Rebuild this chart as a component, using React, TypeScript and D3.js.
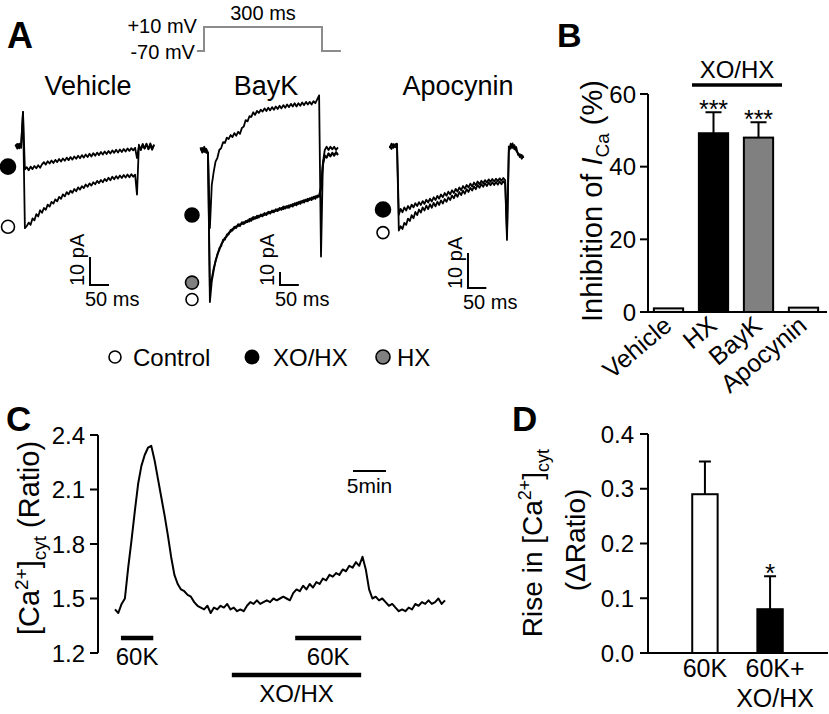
import React from "react";
import * as d3 from "d3";

const FONT = "'Liberation Sans', Arial, Helvetica, sans-serif";
const W = 829;
const H = 714;

// ---------------- Panel A : whole-cell currents (pA, relative to holding), every 5 ms from -20 ms ----------------
const traceStartMs = -20;
const traceStepMs = 5;
const pulseMs = 300;
const scaleBarPA = 10;
const scaleBarMs = 50;

const vehicleControl = [0.8, -0.6, 1.2, -0.3, 12.5,
  -29, -28.2, -27, -27.8, -25.5, -26.2, -24, -24.8, -22.6, -23.5,
  -21.8, -22.4, -20.6, -21.3, -19.6, -20.2, -18.7, -19.4, -17.8, -18.5,
  -16.9, -17.6, -16.1, -16.9, -15.6, -16.4, -15, -15.8, -14.4, -15.2,
  -14, -14.7, -13.4, -14.2, -13, -13.8, -12.6, -13.3, -12.1, -12.9,
  -11.8, -12.6, -11.4, -12.2, -11, -11.9, -10.6, -11.5, -10.4, -11.3,
  -10.2, -11.1, -10, -10.9, -9.8, -10.8, -9.7, -10.6, -9.9,
  -17, 0.8, -0.9, 1.1, -0.5, 0.9, -0.7, 1.3, -0.4, 0.6];
const vehicleXoHx = [0.4, 1.1, -0.5, 0.9, 12.5,
  -8, -7.2, -8.3, -7, -7.9, -6.8, -7.6, -6.5, -7.4, -6.2,
  -5.4, -6.3, -5.1, -5.9, -4.8, -5.7, -4.6, -5.4, -4.3, -5.2,
  -4.1, -4.9, -3.8, -4.7, -3.6, -4.5, -3.4, -4.2, -3.1, -4,
  -2.9, -3.8, -2.7, -3.6, -2.4, -3.4, -2.2, -3.1, -2, -2.9,
  -1.8, -2.7, -1.6, -2.5, -1.4, -2.3, -1.2, -2.1, -1, -2,
  -0.9, -1.8, -0.7, -1.6, -0.5, -1.4, -0.4, -1.2, -0.3,
  -4, 0.3, -1.1, 0.7, -0.6, 1.2, -0.8, 0.5, -1, 0.9];
const baykControl = [1.5, -2, 2.5, -1, -3,
  -117, -101, -93, -85, -81, -75.5, -74, -69, -69, -65,
  -65, -61.5, -62, -59, -60, -57, -58.5, -55.5, -57, -54.5,
  -55.5, -53, -54.5, -51.5, -53, -50.5, -52, -49.5, -51, -48.5,
  -50, -47.5, -49, -46.5, -48, -45.5, -47, -44.5, -46, -43.5,
  -45, -43, -44.5, -42, -43.5, -41, -42.5, -40, -41.5, -39,
  -40.5, -38, -39.5, -37, -38.5, -36, -37.5, -35, -36,
  -30, -12, -5, -5.5, -2.5, -4.5, -2, -4, -1.5, -3.5];
const baykHx = [0.5, 1.5, -1.5, 1, -2,
  -106, -99, -91, -86, -80, -77, -72.5, -70.5, -67.5, -66.5,
  -63.5, -63, -60.5, -60.5, -58.5, -58.5, -57, -57, -55.5, -56,
  -54, -55, -52.5, -53.5, -51.5, -52.5, -50.5, -51, -49.5, -50,
  -48.5, -49, -47.5, -48, -46.5, -47, -45.5, -46, -44.5, -45.5,
  -43.5, -44.5, -42.5, -43.5, -41.5, -42.5, -40.5, -41.5, -39.5, -40.5,
  -38.5, -39.5, -37.5, -38.5, -36.5, -37.5, -35.5, -36.5, -35,
  -28, -10, -4, -6, -3, -5, -2.5, -4.5, -2, -4];
const baykXoHx = [2, -1.5, 1, -2, -2,
  -60, -27, -17, -9, -6, 0, 1.5, 6, 5.5, 9.5,
  8.5, 11.5, 10, 13, 11, 14, 12.5, 17, 18, 23,
  22, 26, 25.5, 29, 27, 30, 28.5, 31, 29.5, 32,
  30, 32.5, 30.5, 33, 31, 33.5, 31.5, 34, 32, 34.5,
  32.5, 35, 33, 35.5, 33.5, 36, 33.5, 36, 34, 36.5,
  34.5, 37, 35, 37, 35, 37.5, 36, 39, 42,
  -82, -10, 0, 2.5, 0, 2.5, 0.5, 2.5, 0, 2];
const apocyninControl = [0.5, 1.8, 0.6, 1.6, 1.8,
  -23, -21.8, -22.6, -20.8, -21.4, -19.6, -20.3, -18.6, -19.5, -17.7,
  -18.6, -17, -17.9, -16.4, -17.3, -15.9, -16.9, -15.5, -16.5, -15.1,
  -16.1, -14.8, -15.7, -14.4, -15.3, -14, -14.8, -13.5, -14.3, -13,
  -13.8, -12.5, -13.4, -12, -12.9, -11.6, -12.5, -11.2, -12, -10.8,
  -11.6, -10.4, -11.2, -10, -10.8, -9.7, -10.5, -9.5, -10.3, -9.3,
  -10.1, -9.2, -10, -9.1, -9.9, -9, -9.8, -8.9, -9.6,
  -25.7, -0.5, 1.8, 0.6, 1.4, -0.2, -0.9, -2, -1.4, -2.3];
const apocyninXoHx = [1.2, 0.3, 1.7, 0.8, 1.5,
  -18.5, -16.8, -17.8, -16.4, -17.3, -16, -16.9, -15.6, -16.4, -15.2,
  -16, -14.9, -15.7, -14.6, -15.4, -14.2, -15, -13.9, -14.7, -13.5,
  -14.3, -13.1, -13.9, -12.7, -13.5, -12.3, -13.1, -11.9, -12.7, -11.5,
  -12.3, -11.1, -11.9, -10.7, -11.5, -10.3, -11.1, -10, -10.7, -9.6,
  -10.4, -9.3, -10.1, -9, -9.8, -8.8, -9.5, -8.6, -9.3, -8.4,
  -9.1, -8.3, -9, -8.2, -8.9, -8.1, -8.8, -8, -8.6,
  -24, 1, 0.4, 1.9, 0.2, 0.9, -1.4, -1.2, -2.5, -1.6];

// voltage protocol
const protocolMs = [-18, 0, 0, 300, 300, 348];
const protocolMv = [-70, -70, 10, 10, -70, -70];

// ---------------- Panel B ----------------
const inhibitionGroups = ["Vehicle", "HX", "BayK", "Apocynin"];
const inhibitionMeans = [1, 49.2, 48, 1.2];
const inhibitionSEM = [0, 5.8, 4.2, 0];
const inhibitionStars = ["", "***", "***", ""];
const inhibitionTicks = [0, 20, 40, 60];

// ---------------- Panel C ----------------
const calciumStepMin = 0.5;
const calciumRatio = [1.44, 1.42, 1.47, 1.5, 1.67, 1.82, 1.98, 2.13, 2.23, 2.29,
  2.33, 2.34, 2.26, 2.16, 2.06, 1.96, 1.85, 1.73, 1.63, 1.58,
  1.55, 1.54, 1.52, 1.51, 1.48, 1.46, 1.45, 1.44, 1.46, 1.42,
  1.45, 1.44, 1.46, 1.45, 1.47, 1.44, 1.45, 1.43, 1.44, 1.43,
  1.46, 1.48, 1.47, 1.49, 1.47, 1.48, 1.49, 1.48, 1.5, 1.49,
  1.5, 1.51, 1.5, 1.49, 1.53, 1.55, 1.54, 1.57, 1.55, 1.58,
  1.56, 1.59, 1.58, 1.61, 1.6, 1.63, 1.62, 1.64, 1.63, 1.66,
  1.65, 1.68, 1.67, 1.7, 1.68, 1.73, 1.66, 1.55, 1.5, 1.51,
  1.49, 1.5, 1.48, 1.46, 1.47, 1.45, 1.43, 1.44, 1.43, 1.45,
  1.44, 1.47, 1.46, 1.48, 1.47, 1.49, 1.47, 1.48, 1.5, 1.47, 1.49];
const calciumTicks = [1.2, 1.5, 1.8, 2.1, 2.4];
const k60Periods = [[0.9, 5.8], [27.3, 37.3]];
const xoHxPeriod = [17.7, 37.3];
const timeBarMin = 5;

// ---------------- Panel D ----------------
const riseGroups = [["60K"], ["60K+", "XO/HX"]];
const riseMeans = [0.29, 0.08];
const riseSEM = [0.06, 0.06];
const riseStars = ["", "*"];
const riseTicks = [0, 0.1, 0.2, 0.3, 0.4];

const traceTimes = vehicleControl.map((_, i) => traceStartMs + i * traceStepMs);

function TracePanel(props: any) {
  const { title, titleX, x, y, traces, markers, markerX, bar } = props;
  const line = d3.line<number>().x((_, i) => x(traceTimes[i])).y((d) => y(d));
  const vLen = y(-scaleBarPA) - y(0);
  const hLen = x(scaleBarMs) - x(0);
  return (
    <g>
      <text x={titleX} y={95} fontSize={27} textAnchor="middle">{title}</text>
      {traces.map((t: number[], i: number) => (
        <path key={i} d={line(t) || ""} fill="none" stroke="#000" strokeWidth={1.8} strokeLinejoin="round" />
      ))}
      {markers.map((m: any, i: number) => (
        <circle key={i} cx={markerX} cy={y(m.level)} r={m.r} fill={m.fill} stroke="#000" strokeWidth={1.6} />
      ))}
      <path d={`M${bar.x},${bar.y - vLen}V${bar.y}H${bar.x + hLen}`} fill="none" stroke="#000" strokeWidth={2} />
      <text transform={`translate(${bar.x - 6},${bar.y + 1}) rotate(-90)`} fontSize={20}>{scaleBarPA} pA</text>
      <text x={bar.x - 5} y={bar.y + 21} fontSize={20}>{scaleBarMs} ms</text>
    </g>
  );
}

export default function App() {
  // ---------- Panel A scales ----------
  const protoX = d3.scaleLinear().domain([0, pulseMs]).range([204, 322]);
  const protoY = d3.scaleLinear().domain([-70, 10]).range([51, 27]);
  const protoLine = d3.line<number>().x((d) => protoX(d)).y((_, i) => protoY(protocolMv[i]));

  const panels = [
    {
      title: "Vehicle", titleX: 88,
      x: d3.scaleLinear().domain([0, pulseMs]).range([23, 137]),
      y: d3.scaleLinear().domain([0, -10]).range([147, 175]),
      traces: [vehicleControl, vehicleXoHx],
      markerX: 8,
      markers: [{ level: -7, fill: "#000", r: 7.5 }, { level: -28.5, fill: "#fff", r: 6.5 }],
      bar: { x: 90, y: 285 },
    },
    {
      title: "BayK", titleX: 266,
      x: d3.scaleLinear().domain([0, pulseMs]).range([208, 321]),
      y: d3.scaleLinear().domain([0, -10]).range([150, 163]),
      traces: [baykControl, baykHx, baykXoHx],
      markerX: 192,
      markers: [{ level: -50, fill: "#000", r: 7 }, { level: -102, fill: "#808080", r: 6.5 }, { level: -115, fill: "#fff", r: 6 }],
      bar: { x: 280, y: 285 },
    },
    {
      title: "Apocynin", titleX: 458,
      x: d3.scaleLinear().domain([0, pulseMs]).range([397, 507]),
      y: d3.scaleLinear().domain([0, -10]).range([150, 185]),
      traces: [apocyninControl, apocyninXoHx],
      markerX: 383,
      markers: [{ level: -17, fill: "#000", r: 7.5 }, { level: -23.6, fill: "#fff", r: 6 }],
      bar: { x: 468, y: 288 },
    },
  ];

  // ---------- Panel B ----------
  const bx = d3.scaleBand().domain(inhibitionGroups).range([646, 826]).paddingInner(0.35).paddingOuter(0.175);
  const by = d3.scaleLinear().domain([0, 60]).range([312, 94]);
  const bFill = ["#e4e4e4", "#000", "#808080", "#e4e4e4"];

  // ---------- Panel C ----------
  const cx = d3.scaleLinear().domain([0, 50]).range([115, 445]);
  const cy = d3.scaleLinear().domain([1.2, 2.4]).range([653, 435]);
  const cLine = d3.line<number>().x((_, i) => cx(i * calciumStepMin)).y((d) => cy(d));

  // ---------- Panel D ----------
  const dx = d3.scaleBand().domain(riseGroups.map((g) => g.join(" "))).range([652.5, 822.5]).padding(0.61);
  const dy = d3.scaleLinear().domain([0, 0.4]).range([653, 434]);
  const dFill = ["#fff", "#000"];

  return (
    <div style={{ position: "absolute", left: 0, top: 0, width: W, height: H, background: "#fff" }}>
      <svg width={W} height={H} viewBox={`0 0 ${W} ${H}`} style={{ display: "block" }} fontFamily={FONT} fill="#000">
        <rect width={W} height={H} fill="#fff" />

        {/* ================= Panel A ================= */}
        <text x={7} y={48} fontSize={36} fontWeight="bold">A</text>
        <path d={protoLine(protocolMs) || ""} fill="none" stroke="#8c8c8c" strokeWidth={2} />
        <text x={protoX(-18)} y={protoY(10) + 6} fontSize={20} textAnchor="end">+10 mV</text>
        <text x={protoX(-18) - 2} y={protoY(-70) + 8} fontSize={20} textAnchor="end">-70 mV</text>
        <text x={(protoX(0) + protoX(pulseMs)) / 2} y={20} fontSize={20} textAnchor="middle">{pulseMs} ms</text>
        {panels.map((p, i) => <TracePanel key={i} {...p} />)}

        {/* legend */}
        <circle cx={115} cy={357} r={6} fill="#fff" stroke="#000" strokeWidth={1.6} />
        <text x={133} y={366} fontSize={24}>Control</text>
        <circle cx={252} cy={357} r={7.5} fill="#000" />
        <text x={273} y={366} fontSize={24}>XO/HX</text>
        <circle cx={383} cy={357} r={7} fill="#808080" stroke="#000" strokeWidth={1.6} />
        <text x={397} y={366} fontSize={24}>HX</text>

        {/* ================= Panel B ================= */}
        <text x={557} y={47} fontSize={34} fontWeight="bold">B</text>
        <text x={737} y={78} fontSize={24} textAnchor="middle">XO/HX</text>
        <line x1={692} x2={782} y1={85} y2={85} stroke="#000" strokeWidth={3.5} />
        {inhibitionGroups.map((g, i) => {
          const x0 = bx(g)!;
          const w = bx.bandwidth();
          const c = x0 + w / 2;
          const top = by(inhibitionMeans[i] + inhibitionSEM[i]);
          return (
            <g key={g}>
              <rect x={x0} y={by(inhibitionMeans[i])} width={w} height={by(0) - by(inhibitionMeans[i])} fill={bFill[i]} stroke="#000" strokeWidth={2} />
              {inhibitionSEM[i] > 0 && (
                <path d={`M${c},${by(inhibitionMeans[i])}V${top}M${c - 8},${top}H${c + 8}`} stroke="#000" strokeWidth={2} fill="none" />
              )}
              {inhibitionStars[i] && <text x={c} y={top + 6} fontSize={25} textAnchor="middle">{inhibitionStars[i]}</text>}
              <text transform={`translate(${c + 5},${328}) rotate(-40)`} fontSize={25} textAnchor="end">{g}</text>
            </g>
          );
        })}
        <path d={`M648,${by(60)}V${by(0)}H827`} fill="none" stroke="#000" strokeWidth={2} />
        {inhibitionTicks.map((t) => (
          <g key={t}>
            <line x1={640} x2={648} y1={by(t)} y2={by(t)} stroke="#000" strokeWidth={2} />
            <text x={636} y={by(t)} dy="0.36em" fontSize={24} textAnchor="end">{t}</text>
          </g>
        ))}
        <text transform="translate(602,201) rotate(-90)" fontSize={29} textAnchor="middle">
          Inhibition of <tspan fontStyle="italic">I</tspan><tspan dy={7} fontSize={19}>Ca</tspan><tspan dy={-7}> (%)</tspan>
        </text>

        {/* ================= Panel C ================= */}
        <text x={6} y={431} fontSize={35} fontWeight="bold">C</text>
        <path d={cLine(calciumRatio) || ""} fill="none" stroke="#000" strokeWidth={2} strokeLinejoin="round" />
        <path d={`M98,${cy(2.4)}V${cy(1.2)}`} stroke="#000" strokeWidth={2} />
        {calciumTicks.map((t) => (
          <g key={t}>
            <line x1={90} x2={98} y1={cy(t)} y2={cy(t)} stroke="#000" strokeWidth={2} />
            <text x={85} y={cy(t)} dy="0.36em" fontSize={24} textAnchor="end">{t.toFixed(1)}</text>
          </g>
        ))}
        <text transform="translate(39,538) rotate(-90)" fontSize={29} textAnchor="middle">
          [Ca<tspan dy={-11} fontSize={19}>2+</tspan><tspan dy={11}>]</tspan><tspan dy={7} fontSize={19}>cyt</tspan><tspan dy={-7}> (Ratio)</tspan>
        </text>
        {k60Periods.map((p, i) => (
          <g key={i}>
            <line x1={cx(p[0])} x2={cx(p[1])} y1={638} y2={638} stroke="#000" strokeWidth={4.5} />
            <text x={(cx(p[0]) + cx(p[1])) / 2} y={665} fontSize={24} textAnchor="middle">60K</text>
          </g>
        ))}
        <line x1={cx(xoHxPeriod[0])} x2={cx(xoHxPeriod[1])} y1={675} y2={675} stroke="#000" strokeWidth={4.5} />
        <text x={(cx(xoHxPeriod[0]) + cx(xoHxPeriod[1])) / 2} y={702} fontSize={24} textAnchor="middle">XO/HX</text>
        <line x1={353} x2={353 + cx(timeBarMin) - cx(0)} y1={471} y2={471} stroke="#000" strokeWidth={2} />
        <text x={353 + (cx(timeBarMin) - cx(0)) / 2} y={493} fontSize={21} textAnchor="middle">{timeBarMin}min</text>

        {/* ================= Panel D ================= */}
        <text x={512} y={431} fontSize={35} fontWeight="bold">D</text>
        {riseGroups.map((g, i) => {
          const key = g.join(" ");
          const x0 = dx(key)!;
          const w = dx.bandwidth();
          const c = x0 + w / 2;
          const top = dy(riseMeans[i] + riseSEM[i]);
          return (
            <g key={key}>
              <rect x={x0} y={dy(riseMeans[i])} width={w} height={dy(0) - dy(riseMeans[i])} fill={dFill[i]} stroke="#000" strokeWidth={2} />
              <path d={`M${c},${dy(riseMeans[i])}V${top}M${c - 6},${top}H${c + 6}`} stroke="#000" strokeWidth={2} fill="none" />
              {riseStars[i] && <text x={c} y={top + 6} fontSize={26} textAnchor="middle">{riseStars[i]}</text>}
              {g.map((s, j) => (
                <text key={j} x={c + (i === 1 ? 5 : 0)} y={677 + j * 30} fontSize={25} textAnchor="middle">{s}</text>
              ))}
            </g>
          );
        })}
        <path d={`M648,${dy(0.4)}V${dy(0)}H828`} fill="none" stroke="#000" strokeWidth={2} />
        {riseTicks.map((t) => (
          <g key={t}>
            <line x1={640} x2={648} y1={dy(t)} y2={dy(t)} stroke="#000" strokeWidth={2} />
            <text x={634} y={dy(t)} dy="0.36em" fontSize={24} textAnchor="end">{t.toFixed(1)}</text>
          </g>
        ))}
        <text transform="translate(542,543) rotate(-90)" fontSize={28} textAnchor="middle">
          Rise in [Ca<tspan dy={-11} fontSize={18}>2+</tspan><tspan dy={11}>]</tspan><tspan dy={7} fontSize={18}>cyt</tspan>
        </text>
        <text transform="translate(585,540) rotate(-90)" fontSize={28} textAnchor="middle">(ΔRatio)</text>
      </svg>
    </div>
  );
}
